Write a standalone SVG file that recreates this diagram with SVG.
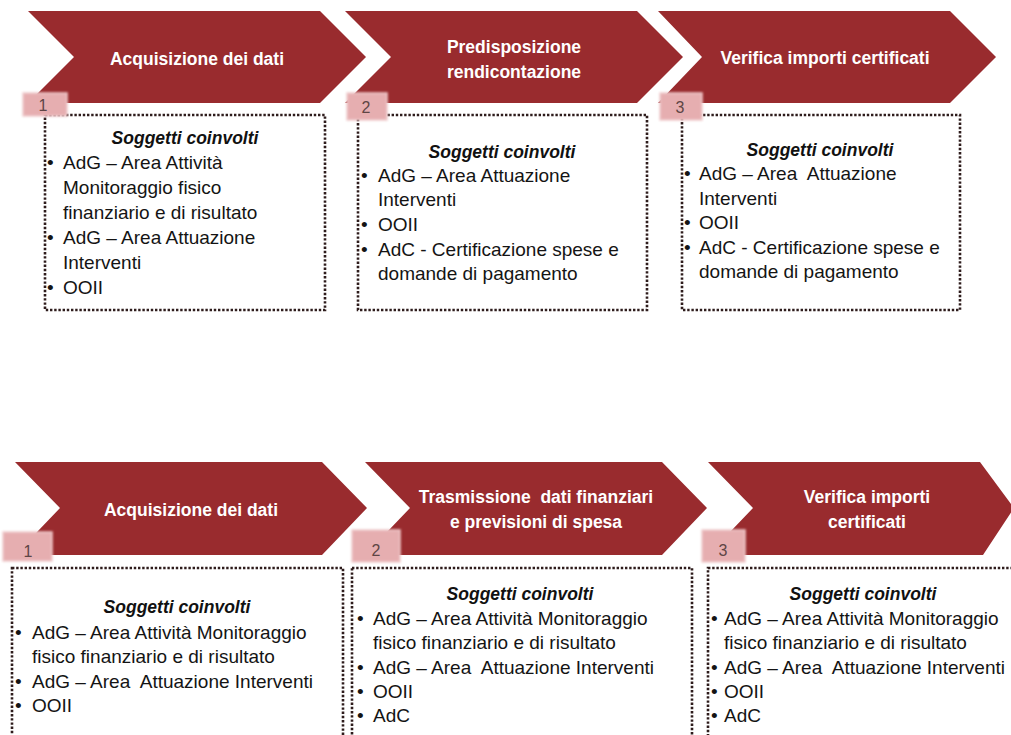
<svg xmlns="http://www.w3.org/2000/svg" width="1011" height="735" viewBox="0 0 1011 735">
<style>
.chev{fill:#992b2e}
.title{font-family:"Liberation Sans",Arial,sans-serif;font-weight:bold;font-size:17.5px;fill:#ffffff;text-anchor:middle;white-space:pre}
.box{fill:#ffffff;stroke:#2e1c1c;stroke-width:2.6;stroke-dasharray:2.4 1.8}
.badge{fill:#e6aeb0;stroke:#f0cdce;stroke-width:1.5;filter:url(#soft)}
.num{font-family:"Liberation Sans",Arial,sans-serif;font-size:16px;fill:#5e4545;text-anchor:middle}
.hd{font-family:"Liberation Sans",Arial,sans-serif;font-weight:bold;font-style:italic;font-size:17.5px;fill:#111111;text-anchor:middle}
.tx{font-family:"Liberation Sans",Arial,sans-serif;font-size:19px;fill:#141414;white-space:pre}
</style>
<defs>
<filter id="soft" x="-20%" y="-30%" width="140%" height="160%"><feGaussianBlur stdDeviation="0.8"/></filter>
</defs>
<rect width="1011" height="735" fill="#ffffff"/>

<!-- Top row -->
<g id="step-top-1">
<polygon class="chev" points="28,11 320,11 366,57 320,103 28,103 74,57"/>
<text class="title" x="197" y="65">Acquisizione dei dati</text>
<rect class="box" x="45" y="115" width="280" height="195"/>
<rect class="badge" x="23" y="93" width="44" height="23"/>
<text class="num" x="43" y="111">1</text>
<text class="hd" x="185" y="144">Soggetti coinvolti</text>
<text class="tx"><tspan x="47" y="169">•</tspan><tspan x="63" y="169">AdG – Area Attività</tspan><tspan x="63" y="194">Monitoraggio fisico</tspan><tspan x="63" y="219">finanziario e di risultato</tspan><tspan x="47" y="244">•</tspan><tspan x="63" y="244">AdG – Area Attuazione</tspan><tspan x="63" y="269">Interventi</tspan><tspan x="47" y="294">•</tspan><tspan x="63" y="294">OOII</tspan></text>
</g>

<g id="step-top-2">
<polygon class="chev" points="345,11 637,11 683,57 637,103 345,103 391,57"/>
<text class="title" x="514" y="53">Predisposizione</text>
<text class="title" x="514" y="78">rendicontazione</text>
<rect class="box" x="358" y="115" width="289" height="195"/>
<rect class="badge" x="347" y="93" width="40" height="27"/>
<text class="num" x="366" y="113">2</text>
<text class="hd" x="502" y="158">Soggetti coinvolti</text>
<text class="tx"><tspan x="361" y="182">•</tspan><tspan x="378" y="182">AdG – Area Attuazione</tspan><tspan x="378" y="206">Interventi</tspan><tspan x="361" y="231">•</tspan><tspan x="378" y="231">OOII</tspan><tspan x="361" y="256">•</tspan><tspan x="378" y="256">AdC - Certificazione spese e</tspan><tspan x="378" y="280">domande di pagamento</tspan></text>
</g>

<g id="step-top-3">
<polygon class="chev" points="658,11 950,11 996,57 950,103 658,103 702,57"/>
<text class="title" x="825" y="64">Verifica importi certificati</text>
<rect class="box" x="682" y="115" width="278" height="195"/>
<rect class="badge" x="660" y="93" width="42" height="27"/>
<text class="num" x="680" y="113">3</text>
<text class="hd" x="820" y="156">Soggetti coinvolti</text>
<text class="tx" xml:space="preserve"><tspan x="684" y="180">•</tspan><tspan x="699" y="180">AdG – Area  Attuazione</tspan><tspan x="699" y="205">Interventi</tspan><tspan x="684" y="229">•</tspan><tspan x="699" y="229">OOII</tspan><tspan x="684" y="254">•</tspan><tspan x="699" y="254">AdC - Certificazione spese e</tspan><tspan x="699" y="278">domande di pagamento</tspan></text>
</g>

<!-- Bottom row -->
<g id="step-bottom-1">
<polygon class="chev" points="15,462 322,462 367,508 322,555 15,555 60,508"/>
<text class="title" x="191" y="516">Acquisizione dei dati</text>
<rect class="box" x="12" y="568" width="331" height="180"/>
<rect class="badge" x="3" y="532" width="49" height="29"/>
<text class="num" x="28" y="557">1</text>
<text class="hd" x="177" y="613">Soggetti coinvolti</text>
<text class="tx" xml:space="preserve"><tspan x="15" y="639">•</tspan><tspan x="32" y="639">AdG – Area Attività Monitoraggio</tspan><tspan x="32" y="663">fisico finanziario e di risultato</tspan><tspan x="15" y="688">•</tspan><tspan x="32" y="688">AdG – Area  Attuazione Interventi</tspan><tspan x="15" y="712">•</tspan><tspan x="32" y="712">OOII</tspan></text>
</g>

<g id="step-bottom-2">
<polygon class="chev" points="365,462 662,462 707,508 662,555 365,555 410,508"/>
<text class="title" x="536" y="503">Trasmissione  dati finanziari</text>
<text class="title" x="536" y="528">e previsioni di spesa</text>
<rect class="box" x="352" y="568" width="340" height="180"/>
<rect class="badge" x="352" y="530" width="48" height="32"/>
<text class="num" x="376" y="556">2</text>
<text class="hd" x="520" y="600">Soggetti coinvolti</text>
<text class="tx" xml:space="preserve"><tspan x="357" y="625">•</tspan><tspan x="373" y="625">AdG – Area Attività Monitoraggio</tspan><tspan x="373" y="649">fisico finanziario e di risultato</tspan><tspan x="357" y="674">•</tspan><tspan x="373" y="674">AdG – Area  Attuazione Interventi</tspan><tspan x="357" y="698">•</tspan><tspan x="373" y="698">OOII</tspan><tspan x="357" y="722">•</tspan><tspan x="373" y="722">AdC</tspan></text>
</g>

<g id="step-bottom-3">
<polygon class="chev" points="708,462 980,462 1014,508 983,555 708,555 753,508"/>
<text class="title" x="867" y="503">Verifica importi</text>
<text class="title" x="867" y="528">certificati</text>
<rect class="box" x="708" y="568" width="320" height="180"/>
<rect class="badge" x="702" y="530" width="43" height="32"/>
<text class="num" x="723" y="556">3</text>
<text class="hd" x="863" y="600">Soggetti coinvolti</text>
<text class="tx" xml:space="preserve"><tspan x="711" y="625">•</tspan><tspan x="724" y="625">AdG – Area Attività Monitoraggio</tspan><tspan x="724" y="649">fisico finanziario e di risultato</tspan><tspan x="711" y="674">•</tspan><tspan x="724" y="674">AdG – Area  Attuazione Interventi</tspan><tspan x="711" y="698">•</tspan><tspan x="724" y="698">OOII</tspan><tspan x="711" y="722">•</tspan><tspan x="724" y="722">AdC</tspan></text>
</g>

<g id="connectors"></g>
</svg>
